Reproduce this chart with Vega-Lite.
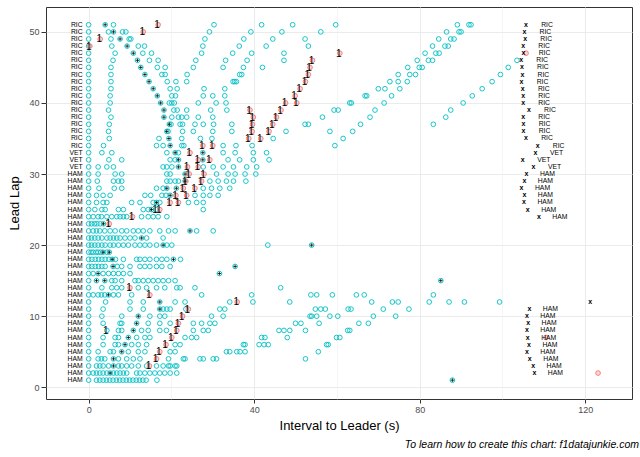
{
  "$schema": "https://vega.github.io/schema/vega-lite/v6.json",
  "width": 586,
  "height": 392,
  "autosize": "none",
  "padding": {"left": 46, "top": 7, "right": 8, "bottom": 58},
  "background": "white",
  "config": {
    "font": "Liberation Sans",
    "view": {"stroke": "#333333", "strokeWidth": 1},
    "axis": {
      "domain": false,
      "tickColor": "#333333",
      "tickSize": 4,
      "tickWidth": 1,
      "labelColor": "#4D4D4D",
      "labelFontSize": 9,
      "labelPadding": 2,
      "gridColor": "#EBEBEB",
      "titleFontSize": 13,
      "titleFontWeight": "normal",
      "titleColor": "black"
    }
  },
  "title": {
    "text": "To learn how to create this chart: f1datajunkie.com",
    "orient": "bottom",
    "anchor": "end",
    "fontStyle": "italic",
    "fontWeight": "normal",
    "fontSize": 10.5,
    "color": "black",
    "offset": 8,
    "dx": 7
  },
  "datasets": {
    "gaps": [
      {"lap":51,"gap":0},{"lap":51,"gap":4.0,"trk":1},{"lap":51,"gap":6.0},{"lap":51,"gap":16.8,"pit":1,"stop":1},{"lap":51,"gap":30.3},{"lap":51,"gap":41.8},{"lap":51,"gap":49.3},{"lap":51,"gap":59.7},{"lap":51,"gap":89.1},{"lap":51,"gap":91.9},{"lap":51,"gap":92.4},
      {"lap":50,"gap":0},{"lap":50,"gap":4.8},{"lap":50,"gap":6.0,"trk":1},{"lap":50,"gap":8.2},{"lap":50,"gap":9.0},{"lap":50,"gap":13.2,"pit":1,"stop":1},{"lap":50,"gap":29.2},{"lap":50,"gap":39.2},{"lap":50,"gap":46.7},{"lap":50,"gap":56.1},{"lap":50,"gap":86.5},{"lap":50,"gap":89.5},{"lap":50,"gap":90.0},
      {"lap":49,"gap":0},{"lap":49,"gap":2.8,"pit":1,"stop":1},{"lap":49,"gap":5.4},{"lap":49,"gap":7.6,"trk":1},{"lap":49,"gap":9.8},{"lap":49,"gap":10.2},{"lap":49,"gap":28.1},{"lap":49,"gap":37.5},{"lap":49,"gap":44.5},{"lap":49,"gap":52.3},{"lap":49,"gap":84.6},{"lap":49,"gap":87.5},{"lap":49,"gap":88.3},
      {"lap":48,"gap":0},{"lap":48,"gap":0.3,"pit":1,"stop":1},{"lap":48,"gap":5.6},{"lap":48,"gap":9.3,"trk":1},{"lap":48,"gap":12.0},{"lap":48,"gap":13.5},{"lap":48,"gap":27.6},{"lap":48,"gap":36.4},{"lap":48,"gap":42.9},{"lap":48,"gap":53.1},{"lap":48,"gap":83.1},{"lap":48,"gap":86.1},{"lap":48,"gap":86.9},
      {"lap":47,"gap":0},{"lap":47,"gap":6.4},{"lap":47,"gap":10.8,"trk":1},{"lap":47,"gap":13.1},{"lap":47,"gap":15.2},{"lap":47,"gap":27.3},{"lap":47,"gap":34.8},{"lap":47,"gap":39.4},{"lap":47,"gap":47.2},{"lap":47,"gap":60.7,"pit":1,"stop":1},{"lap":47,"gap":81.3},{"lap":47,"gap":83.9},{"lap":47,"gap":84.7},{"lap":47,"gap":105.7,"pit":1},
      {"lap":46,"gap":0},{"lap":46,"gap":5.9},{"lap":46,"gap":11.8,"trk":1},{"lap":46,"gap":14.7},{"lap":46,"gap":16.8},{"lap":46,"gap":25.9},{"lap":46,"gap":33.1},{"lap":46,"gap":38.3},{"lap":46,"gap":47.2},{"lap":46,"gap":54.1,"pit":1,"stop":1},{"lap":46,"gap":79.4},{"lap":46,"gap":82.1},{"lap":46,"gap":83.1},{"lap":46,"gap":103.5},
      {"lap":45,"gap":0},{"lap":45,"gap":5.4},{"lap":45,"gap":12.6,"trk":1},{"lap":45,"gap":16.6},{"lap":45,"gap":18.5},{"lap":45,"gap":25.3},{"lap":45,"gap":32.5},{"lap":45,"gap":37.4},{"lap":45,"gap":42.0},{"lap":45,"gap":53.5,"pit":1,"stop":1},{"lap":45,"gap":77.1},{"lap":45,"gap":79.9},{"lap":45,"gap":80.6},{"lap":45,"gap":101.4},
      {"lap":44,"gap":0},{"lap":44,"gap":5.4},{"lap":44,"gap":13.6,"trk":1},{"lap":44,"gap":17.7},{"lap":44,"gap":18.5},{"lap":44,"gap":23.8},{"lap":44,"gap":36.5},{"lap":44,"gap":37.0},{"lap":44,"gap":53.1,"pit":1,"stop":1},{"lap":44,"gap":74.8},{"lap":44,"gap":77.6},{"lap":44,"gap":79.0},{"lap":44,"gap":99.5},
      {"lap":43,"gap":0},{"lap":43,"gap":5.4},{"lap":43,"gap":14.6,"trk":1},{"lap":43,"gap":19.0},{"lap":43,"gap":21.1},{"lap":43,"gap":23.7},{"lap":43,"gap":34.9},{"lap":43,"gap":35.3},{"lap":43,"gap":35.7},{"lap":43,"gap":52.4,"pit":1,"stop":1},{"lap":43,"gap":72.8},{"lap":43,"gap":74.8},{"lap":43,"gap":77.0},{"lap":43,"gap":97.5},
      {"lap":42,"gap":0},{"lap":42,"gap":5.4},{"lap":42,"gap":15.6,"trk":1},{"lap":42,"gap":19.7},{"lap":42,"gap":21.4},{"lap":42,"gap":27.9},{"lap":42,"gap":32.9},{"lap":42,"gap":51.1,"pit":1,"stop":1},{"lap":42,"gap":70.0},{"lap":42,"gap":71.6},{"lap":42,"gap":75.2},{"lap":42,"gap":95.1},
      {"lap":41,"gap":0},{"lap":41,"gap":5.2},{"lap":41,"gap":16.6,"trk":1},{"lap":41,"gap":20.1},{"lap":41,"gap":21.0},{"lap":41,"gap":27.7},{"lap":41,"gap":30.0},{"lap":41,"gap":32.9},{"lap":41,"gap":49.9,"pit":1,"stop":1},{"lap":41,"gap":66.8},{"lap":41,"gap":67.2},{"lap":41,"gap":73.2},{"lap":41,"gap":92.7},
      {"lap":40,"gap":0},{"lap":40,"gap":5.2},{"lap":40,"gap":17.4,"trk":1},{"lap":40,"gap":19.5},{"lap":40,"gap":20.1},{"lap":40,"gap":20.7},{"lap":40,"gap":26.5},{"lap":40,"gap":30.8},{"lap":40,"gap":33.2},{"lap":40,"gap":47.6,"pit":1,"stop":1},{"lap":40,"gap":50.3,"pit":1,"stop":1},{"lap":40,"gap":63.1},{"lap":40,"gap":63.5},{"lap":40,"gap":71.4},{"lap":40,"gap":90.5},
      {"lap":39,"gap":0},{"lap":39,"gap":4.8},{"lap":39,"gap":18.2,"trk":1},{"lap":39,"gap":20.6},{"lap":39,"gap":21.4},{"lap":39,"gap":23.7},{"lap":39,"gap":29.5},{"lap":39,"gap":33.4},{"lap":39,"gap":39.0,"pit":1,"stop":1},{"lap":39,"gap":46.5,"pit":1,"stop":1},{"lap":39,"gap":59.3},{"lap":39,"gap":60.3},{"lap":39,"gap":69.2},{"lap":39,"gap":87.5},
      {"lap":38,"gap":0},{"lap":38,"gap":5.4},{"lap":38,"gap":18.2,"trk":1},{"lap":38,"gap":20.1},{"lap":38,"gap":21.7},{"lap":38,"gap":22.5},{"lap":38,"gap":23.7},{"lap":38,"gap":26.5},{"lap":38,"gap":30.0},{"lap":38,"gap":39.8,"pit":1,"stop":1},{"lap":38,"gap":45.4,"pit":1,"stop":1},{"lap":38,"gap":56.5},{"lap":38,"gap":68.0},{"lap":38,"gap":86.3},
      {"lap":37,"gap":0},{"lap":37,"gap":5.0},{"lap":37,"gap":19.5,"trk":1},{"lap":37,"gap":19.9},{"lap":37,"gap":22.1},{"lap":37,"gap":22.7},{"lap":37,"gap":25.7},{"lap":37,"gap":27.7},{"lap":37,"gap":30.2},{"lap":37,"gap":34.6},{"lap":37,"gap":39.6,"pit":1,"stop":1},{"lap":37,"gap":44.5,"pit":1,"stop":1},{"lap":37,"gap":52.3},{"lap":37,"gap":53.1},{"lap":37,"gap":65.7},{"lap":37,"gap":83.3},
      {"lap":36,"gap":0},{"lap":36,"gap":4.8},{"lap":36,"gap":18.9,"trk":1},{"lap":36,"gap":19.2},{"lap":36,"gap":22.7},{"lap":36,"gap":25.3},{"lap":36,"gap":30.0},{"lap":36,"gap":34.6},{"lap":36,"gap":39.5,"pit":1,"stop":1},{"lap":36,"gap":43.6,"pit":1,"stop":1},{"lap":36,"gap":47.7},{"lap":36,"gap":58.3},{"lap":36,"gap":63.8},
      {"lap":35,"gap":0},{"lap":35,"gap":5.0},{"lap":35,"gap":17.0},{"lap":35,"gap":19.4,"trk":1},{"lap":35,"gap":22.5},{"lap":35,"gap":27.0},{"lap":35,"gap":29.8},{"lap":35,"gap":38.7,"pit":1,"stop":1},{"lap":35,"gap":41.6,"pit":1,"stop":1},{"lap":35,"gap":44.6},{"lap":35,"gap":61.5},
      {"lap":34,"gap":0},{"lap":34,"gap":3.6},{"lap":34,"gap":16.4},{"lap":34,"gap":18.0},{"lap":34,"gap":19.7,"trk":1},{"lap":34,"gap":22.5},{"lap":34,"gap":23.0},{"lap":34,"gap":27.6,"pit":1,"stop":1},{"lap":34,"gap":30.0,"pit":1,"stop":1},{"lap":34,"gap":32.5},{"lap":34,"gap":35.6},{"lap":34,"gap":39.5},{"lap":34,"gap":59.5},
      {"lap":33,"gap":0},{"lap":33,"gap":3.2},{"lap":33,"gap":5.6},{"lap":33,"gap":18.9},{"lap":33,"gap":20.9,"trk":1},{"lap":33,"gap":21.7},{"lap":33,"gap":24.5,"pit":1,"stop":1},{"lap":33,"gap":27.6,"trk":1},{"lap":33,"gap":32.5},{"lap":33,"gap":35.4},{"lap":33,"gap":39.8},{"lap":33,"gap":43.0},
      {"lap":32,"gap":0},{"lap":32,"gap":4.9},{"lap":32,"gap":8.0},{"lap":32,"gap":19.7},{"lap":32,"gap":20.9},{"lap":32,"gap":21.7,"trk":1},{"lap":32,"gap":26.5,"pit":1,"stop":1},{"lap":32,"gap":27.6,"trk":1},{"lap":32,"gap":29.3,"pit":1,"stop":1},{"lap":32,"gap":33.7},{"lap":32,"gap":36.5},{"lap":32,"gap":39.8},{"lap":32,"gap":43.6},
      {"lap":31,"gap":0},{"lap":31,"gap":2.3},{"lap":31,"gap":4.4},{"lap":31,"gap":6.0},{"lap":31,"gap":18.0},{"lap":31,"gap":18.9},{"lap":31,"gap":20.1},{"lap":31,"gap":21.7,"trk":1},{"lap":31,"gap":23.9,"pit":1,"stop":1},{"lap":31,"gap":26.5,"pit":1,"stop":1},{"lap":31,"gap":27.7},{"lap":31,"gap":30.1},{"lap":31,"gap":32.5},{"lap":31,"gap":35.0},{"lap":31,"gap":38.2},{"lap":31,"gap":40.6},
      {"lap":30,"gap":0},{"lap":30,"gap":2.3},{"lap":30,"gap":6.4},{"lap":30,"gap":8.0},{"lap":30,"gap":18.9},{"lap":30,"gap":19.7},{"lap":30,"gap":23.3,"trk":1},{"lap":30,"gap":24.3,"pit":1,"stop":1},{"lap":30,"gap":27.9,"pit":1,"stop":1},{"lap":30,"gap":30.9},{"lap":30,"gap":33.7},{"lap":30,"gap":35.4},{"lap":30,"gap":37.8},{"lap":30,"gap":40.4},
      {"lap":29,"gap":0},{"lap":29,"gap":2.1},{"lap":29,"gap":6.0},{"lap":29,"gap":7.2},{"lap":29,"gap":8.0},{"lap":29,"gap":18.9},{"lap":29,"gap":19.7},{"lap":29,"gap":20.9},{"lap":29,"gap":21.7},{"lap":29,"gap":23.3,"trk":1},{"lap":29,"gap":23.5,"pit":1,"stop":1},{"lap":29,"gap":27.3,"pit":1,"stop":1},{"lap":29,"gap":29.3},{"lap":29,"gap":31.3},{"lap":29,"gap":33.3},{"lap":29,"gap":35.0},{"lap":29,"gap":38.0},
      {"lap":28,"gap":0},{"lap":28,"gap":2.5},{"lap":28,"gap":6.2},{"lap":28,"gap":8.0},{"lap":28,"gap":16.4},{"lap":28,"gap":18.0},{"lap":28,"gap":18.9,"trk":1},{"lap":28,"gap":21.2,"trk":1},{"lap":28,"gap":22.9,"pit":1,"stop":1},{"lap":28,"gap":25.7,"pit":1,"stop":1},{"lap":28,"gap":27.7},{"lap":28,"gap":29.7},{"lap":28,"gap":31.7},{"lap":28,"gap":34.1},
      {"lap":27,"gap":0},{"lap":27,"gap":1.9},{"lap":27,"gap":3.5},{"lap":27,"gap":5.2},{"lap":27,"gap":13.6},{"lap":27,"gap":15.0},{"lap":27,"gap":17.7},{"lap":27,"gap":18.7},{"lap":27,"gap":19.7,"trk":1},{"lap":27,"gap":21.1,"pit":1,"stop":1},{"lap":27,"gap":23.7,"pit":1,"stop":1},{"lap":27,"gap":25.7},{"lap":27,"gap":27.7},{"lap":27,"gap":29.3},{"lap":27,"gap":31.3},
      {"lap":26,"gap":0},{"lap":26,"gap":1.9},{"lap":26,"gap":3.5},{"lap":26,"gap":4.4},{"lap":26,"gap":10.4},{"lap":26,"gap":12.4},{"lap":26,"gap":15.6},{"lap":26,"gap":16.4,"trk":1},{"lap":26,"gap":17.2},{"lap":26,"gap":19.7,"pit":1,"stop":1},{"lap":26,"gap":21.7,"pit":1,"stop":1},{"lap":26,"gap":24.1},{"lap":26,"gap":26.1},{"lap":26,"gap":27.7},
      {"lap":25,"gap":0},{"lap":25,"gap":1.5},{"lap":25,"gap":3.2},{"lap":25,"gap":4.0},{"lap":25,"gap":7.2},{"lap":25,"gap":8.4},{"lap":25,"gap":13.2},{"lap":25,"gap":14.4},{"lap":25,"gap":15.2,"trk":1},{"lap":25,"gap":16.3,"stop":1},{"lap":25,"gap":17.2,"pit":1,"stop":1},{"lap":25,"gap":27.7},
      {"lap":24,"gap":0},{"lap":24,"gap":1.1},{"lap":24,"gap":2.3},{"lap":24,"gap":3.1},{"lap":24,"gap":4.4},{"lap":24,"gap":5.6},{"lap":24,"gap":6.8},{"lap":24,"gap":7.6},{"lap":24,"gap":8.4},{"lap":24,"gap":9.2},{"lap":24,"gap":10.6,"pit":1,"stop":1},{"lap":24,"gap":12.8},{"lap":24,"gap":14.4},{"lap":24,"gap":15.6},{"lap":24,"gap":16.8},{"lap":24,"gap":18.9},
      {"lap":23,"gap":0},{"lap":23,"gap":0.7},{"lap":23,"gap":1.4},{"lap":23,"gap":2.0},{"lap":23,"gap":2.8},{"lap":23,"gap":3.6,"trk":1},{"lap":23,"gap":5.0,"pit":1,"stop":1},
      {"lap":22,"gap":0},{"lap":22,"gap":1.1},{"lap":22,"gap":1.9},{"lap":22,"gap":2.7},{"lap":22,"gap":3.9},{"lap":22,"gap":5.2},{"lap":22,"gap":6.4},{"lap":22,"gap":8.0},{"lap":22,"gap":9.2},{"lap":22,"gap":10.8},{"lap":22,"gap":12.0},{"lap":22,"gap":13.2},{"lap":22,"gap":14.8},{"lap":22,"gap":17.2},{"lap":22,"gap":19.3},{"lap":22,"gap":20.9},{"lap":22,"gap":24.5,"trk":1},{"lap":22,"gap":26.1},{"lap":22,"gap":30.1},
      {"lap":21,"gap":0},{"lap":21,"gap":0.7},{"lap":21,"gap":1.5},{"lap":21,"gap":2.3},{"lap":21,"gap":3.2},{"lap":21,"gap":4.4},{"lap":21,"gap":5.2},{"lap":21,"gap":6.0},{"lap":21,"gap":6.8},{"lap":21,"gap":7.6},{"lap":21,"gap":8.8},{"lap":21,"gap":10.0},{"lap":21,"gap":11.2},{"lap":21,"gap":12.8,"trk":1},{"lap":21,"gap":14.0},{"lap":21,"gap":18.0},
      {"lap":20,"gap":0},{"lap":20,"gap":0.7},{"lap":20,"gap":1.5},{"lap":20,"gap":2.3},{"lap":20,"gap":3.2},{"lap":20,"gap":4.0},{"lap":20,"gap":5.2},{"lap":20,"gap":6.0},{"lap":20,"gap":7.2},{"lap":20,"gap":8.4},{"lap":20,"gap":9.6},{"lap":20,"gap":11.2},{"lap":20,"gap":12.4},{"lap":20,"gap":13.6},{"lap":20,"gap":14.8},{"lap":20,"gap":16.4},{"lap":20,"gap":18.0,"trk":1},{"lap":20,"gap":18.9},{"lap":20,"gap":20.1},{"lap":20,"gap":43.3},{"lap":20,"gap":53.9,"trk":1},
      {"lap":19,"gap":0},{"lap":19,"gap":0.6},{"lap":19,"gap":1.1},{"lap":19,"gap":1.8},{"lap":19,"gap":2.3},{"lap":19,"gap":2.9},{"lap":19,"gap":3.5,"trk":1},{"lap":19,"gap":4.4},{"lap":19,"gap":5.0,"trk":1},
      {"lap":18,"gap":0},{"lap":18,"gap":0.8},{"lap":18,"gap":1.6},{"lap":18,"gap":2.4},{"lap":18,"gap":3.2},{"lap":18,"gap":4.0},{"lap":18,"gap":4.9},{"lap":18,"gap":5.7,"trk":1},{"lap":18,"gap":6.5},{"lap":18,"gap":8.4},{"lap":18,"gap":11.6},{"lap":18,"gap":12.4},{"lap":18,"gap":13.6},{"lap":18,"gap":14.8},{"lap":18,"gap":16.4},{"lap":18,"gap":17.7},{"lap":18,"gap":18.9},{"lap":18,"gap":20.5,"trk":1},{"lap":18,"gap":22.2},
      {"lap":17,"gap":0},{"lap":17,"gap":0.8},{"lap":17,"gap":1.6},{"lap":17,"gap":2.4},{"lap":17,"gap":3.2},{"lap":17,"gap":4.0},{"lap":17,"gap":5.9,"trk":1},{"lap":17,"gap":6.9},{"lap":17,"gap":8.0},{"lap":17,"gap":10.0},{"lap":17,"gap":12.4},{"lap":17,"gap":13.6},{"lap":17,"gap":14.8},{"lap":17,"gap":16.4},{"lap":17,"gap":17.7},{"lap":17,"gap":19.7},{"lap":17,"gap":35.4,"trk":1},
      {"lap":16,"gap":0},{"lap":16,"gap":1.1},{"lap":16,"gap":2.3,"trk":1},{"lap":16,"gap":3.5},{"lap":16,"gap":4.8},{"lap":16,"gap":6.0},{"lap":16,"gap":7.2},{"lap":16,"gap":8.4},{"lap":16,"gap":10.0},{"lap":16,"gap":31.6,"trk":1},
      {"lap":15,"gap":0},{"lap":15,"gap":1.9,"trk":1},{"lap":15,"gap":3.9,"trk":1},{"lap":15,"gap":5.6},{"lap":15,"gap":6.4},{"lap":15,"gap":8.0},{"lap":15,"gap":11.2},{"lap":15,"gap":12.0},{"lap":15,"gap":13.2},{"lap":15,"gap":14.4},{"lap":15,"gap":15.6},{"lap":15,"gap":16.8},{"lap":15,"gap":18.0},{"lap":15,"gap":19.3},{"lap":15,"gap":20.9},{"lap":15,"gap":85.1,"trk":1},
      {"lap":14,"gap":0},{"lap":14,"gap":3.2},{"lap":14,"gap":5.6},{"lap":14,"gap":6.8},{"lap":14,"gap":8.0},{"lap":14,"gap":10.0,"pit":1,"stop":1},{"lap":14,"gap":12.0},{"lap":14,"gap":14.0},{"lap":14,"gap":16.4},{"lap":14,"gap":18.4},{"lap":14,"gap":21.3},{"lap":14,"gap":22.1},{"lap":14,"gap":25.7},{"lap":14,"gap":46.4},
      {"lap":13,"gap":0},{"lap":13,"gap":1.1},{"lap":13,"gap":2.3},{"lap":13,"gap":3.1},{"lap":13,"gap":3.9},{"lap":13,"gap":4.8,"trk":1},{"lap":13,"gap":6.0},{"lap":13,"gap":7.2},{"lap":13,"gap":10.4},{"lap":13,"gap":14.8,"pit":1,"stop":1},{"lap":13,"gap":27.3},{"lap":13,"gap":39.4},{"lap":13,"gap":53.7},{"lap":13,"gap":55.1},{"lap":13,"gap":58.9},{"lap":13,"gap":64.7},{"lap":13,"gap":66.6},{"lap":13,"gap":83.3},
      {"lap":12,"gap":0},{"lap":12,"gap":4.1},{"lap":12,"gap":10.0},{"lap":12,"gap":13.2},{"lap":12,"gap":17.2,"trk":1},{"lap":12,"gap":20.9},{"lap":12,"gap":23.3},{"lap":12,"gap":34.1},{"lap":12,"gap":35.9,"pit":1,"stop":1},{"lap":12,"gap":39.7},{"lap":12,"gap":48.6},{"lap":12,"gap":68.4},{"lap":12,"gap":73.4},{"lap":12,"gap":74.8},{"lap":12,"gap":82.3},{"lap":12,"gap":87.1},{"lap":12,"gap":90.8},{"lap":12,"gap":99.3},
      {"lap":11,"gap":0},{"lap":11,"gap":3.5},{"lap":11,"gap":10.0},{"lap":11,"gap":13.2},{"lap":11,"gap":17.2,"trk":1},{"lap":11,"gap":18.0},{"lap":11,"gap":18.9},{"lap":11,"gap":19.7},{"lap":11,"gap":23.5},{"lap":11,"gap":24.1,"pit":1,"stop":1},{"lap":11,"gap":31.7},{"lap":11,"gap":32.9},{"lap":11,"gap":54.8},{"lap":11,"gap":56.1},{"lap":11,"gap":57.2},{"lap":11,"gap":62.7},{"lap":11,"gap":63.4},{"lap":11,"gap":71.2},{"lap":11,"gap":77.4},
      {"lap":10,"gap":0},{"lap":10,"gap":3.2},{"lap":10,"gap":8.0},{"lap":10,"gap":12.0,"trk":1},{"lap":10,"gap":14.8},{"lap":10,"gap":17.2},{"lap":10,"gap":18.4},{"lap":10,"gap":22.7,"pit":1,"stop":1},{"lap":10,"gap":29.7},{"lap":10,"gap":32.5},{"lap":10,"gap":53.5},{"lap":10,"gap":53.9},{"lap":10,"gap":55.1},{"lap":10,"gap":58.3},{"lap":10,"gap":60.2},{"lap":10,"gap":68.8},{"lap":10,"gap":74.2},
      {"lap":9,"gap":0},{"lap":9,"gap":3.5},{"lap":9,"gap":7.6},{"lap":9,"gap":8.0},{"lap":9,"gap":11.6,"trk":1},{"lap":9,"gap":14.4},{"lap":9,"gap":17.2},{"lap":9,"gap":19.7},{"lap":9,"gap":21.7,"pit":1,"stop":1},{"lap":9,"gap":25.3},{"lap":9,"gap":27.3},{"lap":9,"gap":29.3},{"lap":9,"gap":30.5},{"lap":9,"gap":50.0},{"lap":9,"gap":51.3},{"lap":9,"gap":55.7},{"lap":9,"gap":65.3},{"lap":9,"gap":67.6},
      {"lap":8,"gap":0},{"lap":8,"gap":4.4,"stop":1},{"lap":8,"gap":7.2},{"lap":8,"gap":8.0},{"lap":8,"gap":10.8,"trk":1},{"lap":8,"gap":12.8},{"lap":8,"gap":14.4},{"lap":8,"gap":17.2},{"lap":8,"gap":18.8},{"lap":8,"gap":21.3,"pit":1,"stop":1},{"lap":8,"gap":25.3},{"lap":8,"gap":27.7},{"lap":8,"gap":28.9},{"lap":8,"gap":46.0},{"lap":8,"gap":47.2},{"lap":8,"gap":48.6},{"lap":8,"gap":52.4},{"lap":8,"gap":62.6},{"lap":8,"gap":63.1},
      {"lap":7,"gap":0},{"lap":7,"gap":3.5},{"lap":7,"gap":6.4},{"lap":7,"gap":7.2},{"lap":7,"gap":9.6,"trk":1},{"lap":7,"gap":11.6},{"lap":7,"gap":13.6},{"lap":7,"gap":14.8},{"lap":7,"gap":20.1,"pit":1,"stop":1},{"lap":7,"gap":23.3},{"lap":7,"gap":24.9},{"lap":7,"gap":26.1},{"lap":7,"gap":41.8},{"lap":7,"gap":42.6},{"lap":7,"gap":48.0},{"lap":7,"gap":59.9},{"lap":7,"gap":60.7},{"lap":7,"gap":110.5,"pit":1},
      {"lap":6,"gap":0},{"lap":6,"gap":3.5},{"lap":6,"gap":6.4},{"lap":6,"gap":7.2},{"lap":6,"gap":8.8,"trk":1},{"lap":6,"gap":10.4},{"lap":6,"gap":12.0},{"lap":6,"gap":14.0},{"lap":6,"gap":18.7,"pit":1,"stop":1},{"lap":6,"gap":20.9},{"lap":6,"gap":22.1},{"lap":6,"gap":37.4},{"lap":6,"gap":37.8},{"lap":6,"gap":41.2},{"lap":6,"gap":42.4},{"lap":6,"gap":43.4},{"lap":6,"gap":57.5},{"lap":6,"gap":57.9},
      {"lap":5,"gap":0},{"lap":5,"gap":2.3},{"lap":5,"gap":5.2},{"lap":5,"gap":6.0},{"lap":5,"gap":8.0,"trk":1},{"lap":5,"gap":9.6},{"lap":5,"gap":12.0},{"lap":5,"gap":13.6},{"lap":5,"gap":17.2,"pit":1,"stop":1},{"lap":5,"gap":19.7},{"lap":5,"gap":20.9},{"lap":5,"gap":33.3},{"lap":5,"gap":34.1},{"lap":5,"gap":35.8},{"lap":5,"gap":36.6},{"lap":5,"gap":37.8},{"lap":5,"gap":55.5},
      {"lap":4,"gap":0},{"lap":4,"gap":2.3},{"lap":4,"gap":3.1},{"lap":4,"gap":3.9},{"lap":4,"gap":6.0,"trk":1},{"lap":4,"gap":7.2},{"lap":4,"gap":9.2},{"lap":4,"gap":10.8},{"lap":4,"gap":12.4},{"lap":4,"gap":16.4,"pit":1,"stop":1},{"lap":4,"gap":19.3},{"lap":4,"gap":22.9},{"lap":4,"gap":23.3},{"lap":4,"gap":26.9},{"lap":4,"gap":27.7},{"lap":4,"gap":30.1},{"lap":4,"gap":30.9},{"lap":4,"gap":52.4},
      {"lap":3,"gap":0},{"lap":3,"gap":1.9},{"lap":3,"gap":2.7},{"lap":3,"gap":3.5},{"lap":3,"gap":4.8},{"lap":3,"gap":6.0,"trk":1},{"lap":3,"gap":7.2},{"lap":3,"gap":8.0},{"lap":3,"gap":9.2},{"lap":3,"gap":10.4},{"lap":3,"gap":12.0},{"lap":3,"gap":14.0},{"lap":3,"gap":14.7,"pit":1,"stop":1},{"lap":3,"gap":16.4},{"lap":3,"gap":18.0},{"lap":3,"gap":19.3},{"lap":3,"gap":19.7},{"lap":3,"gap":20.9},{"lap":3,"gap":21.3},
      {"lap":2,"gap":0},{"lap":2,"gap":1.1},{"lap":2,"gap":1.9},{"lap":2,"gap":2.7},{"lap":2,"gap":3.5},{"lap":2,"gap":4.4},{"lap":2,"gap":5.2,"trk":1},{"lap":2,"gap":6.0},{"lap":2,"gap":6.8},{"lap":2,"gap":7.6},{"lap":2,"gap":8.4},{"lap":2,"gap":9.2},{"lap":2,"gap":11.6},{"lap":2,"gap":12.4},{"lap":2,"gap":13.6},{"lap":2,"gap":14.8},{"lap":2,"gap":16.0},{"lap":2,"gap":17.2},{"lap":2,"gap":18.4},{"lap":2,"gap":19.7},{"lap":2,"gap":21.3},{"lap":2,"gap":123.1,"pit":1},
      {"lap":1,"gap":0},{"lap":1,"gap":1.9},{"lap":1,"gap":2.7},{"lap":1,"gap":3.5},{"lap":1,"gap":4.3},{"lap":1,"gap":5.1},{"lap":1,"gap":5.9},{"lap":1,"gap":6.7},{"lap":1,"gap":7.5},{"lap":1,"gap":8.3},{"lap":1,"gap":9.1},{"lap":1,"gap":9.9},{"lap":1,"gap":10.7},{"lap":1,"gap":11.5},{"lap":1,"gap":12.3},{"lap":1,"gap":13.1},{"lap":1,"gap":13.9},{"lap":1,"gap":16.5},{"lap":1,"gap":87.9,"trk":1}
    ],
    "leaders": [
      {"lap":51,"leader":"RIC"},{"lap":50,"leader":"RIC"},{"lap":49,"leader":"RIC"},{"lap":48,"leader":"RIC"},{"lap":47,"leader":"RIC"},{"lap":46,"leader":"RIC"},{"lap":45,"leader":"RIC"},{"lap":44,"leader":"RIC"},{"lap":43,"leader":"RIC"},{"lap":42,"leader":"RIC"},{"lap":41,"leader":"RIC"},{"lap":40,"leader":"RIC"},{"lap":39,"leader":"RIC"},{"lap":38,"leader":"RIC"},{"lap":37,"leader":"RIC"},{"lap":36,"leader":"RIC"},{"lap":35,"leader":"RIC"},{"lap":34,"leader":"RIC"},
      {"lap":33,"leader":"VET"},{"lap":32,"leader":"VET"},{"lap":31,"leader":"VET"},
      {"lap":30,"leader":"HAM"},{"lap":29,"leader":"HAM"},{"lap":28,"leader":"HAM"},{"lap":27,"leader":"HAM"},{"lap":26,"leader":"HAM"},{"lap":25,"leader":"HAM"},{"lap":24,"leader":"HAM"},{"lap":23,"leader":"HAM"},{"lap":22,"leader":"HAM"},{"lap":21,"leader":"HAM"},{"lap":20,"leader":"HAM"},{"lap":19,"leader":"HAM"},{"lap":18,"leader":"HAM"},{"lap":17,"leader":"HAM"},{"lap":16,"leader":"HAM"},{"lap":15,"leader":"HAM"},{"lap":14,"leader":"HAM"},{"lap":13,"leader":"HAM"},{"lap":12,"leader":"HAM"},{"lap":11,"leader":"HAM"},{"lap":10,"leader":"HAM"},{"lap":9,"leader":"HAM"},{"lap":8,"leader":"HAM"},{"lap":7,"leader":"HAM"},{"lap":6,"leader":"HAM"},{"lap":5,"leader":"HAM"},{"lap":4,"leader":"HAM"},{"lap":3,"leader":"HAM"},{"lap":2,"leader":"HAM"},{"lap":1,"leader":"HAM"}
    ],
    "laptimes": [
      {"lap":51,"t":105.7,"leader":"RIC"},{"lap":50,"t":105.3,"leader":"RIC"},{"lap":49,"t":105.5,"leader":"RIC"},{"lap":48,"t":105.0,"leader":"RIC"},{"lap":47,"t":105.1,"leader":"RIC"},{"lap":46,"t":104.5,"leader":"RIC"},{"lap":45,"t":104.7,"leader":"RIC"},{"lap":44,"t":104.8,"leader":"RIC"},{"lap":43,"t":104.6,"leader":"RIC"},{"lap":42,"t":104.9,"leader":"RIC"},{"lap":41,"t":105.0,"leader":"RIC"},{"lap":40,"t":105.0,"leader":"RIC"},{"lap":39,"t":106.4,"leader":"RIC"},{"lap":38,"t":105.0,"leader":"RIC"},{"lap":37,"t":105.1,"leader":"RIC"},{"lap":36,"t":105.1,"leader":"RIC"},{"lap":35,"t":105.7,"leader":"RIC"},{"lap":34,"t":108.5,"leader":"RIC"},
      {"lap":33,"t":108.0,"leader":"VET"},{"lap":32,"t":104.9,"leader":"VET"},{"lap":31,"t":107.5,"leader":"VET"},
      {"lap":30,"t":105.8,"leader":"HAM"},{"lap":29,"t":105.3,"leader":"HAM"},{"lap":28,"t":104.6,"leader":"HAM"},{"lap":27,"t":105.3,"leader":"HAM"},{"lap":26,"t":105.2,"leader":"HAM"},{"lap":25,"t":106.1,"leader":"HAM"},{"lap":24,"t":108.8,"leader":"HAM"},
      {"lap":12,"t":121.2,"leader":null},
      {"lap":11,"t":106.5,"leader":"HAM"},{"lap":10,"t":105.9,"leader":"HAM"},{"lap":9,"t":106.2,"leader":"HAM"},{"lap":8,"t":105.9,"leader":"HAM"},{"lap":7,"t":106.1,"leader":"HAM"},{"lap":6,"t":106.4,"leader":"HAM"},{"lap":5,"t":105.9,"leader":"HAM"},{"lap":4,"t":106.6,"leader":"HAM"},{"lap":3,"t":107.4,"leader":"HAM"},{"lap":2,"t":107.7,"leader":"HAM"}
    ]
  },
  "layer": [
    {
      "data": {"name": "gaps"},
      "transform": [{"filter": "!datum.pit"}],
      "mark": {"type": "point", "filled": false, "color": "#00BFC4", "size": 22, "strokeWidth": 0.9, "opacity": 1},
      "encoding": {
        "x": {
          "field": "gap", "type": "quantitative", "title": "Interval to Leader (s)",
          "scale": {"domain": [-10.3, 131.3], "nice": false, "zero": false},
          "axis": {
            "values": [0, 20, 40, 60, 80, 100, 120],
            "labelExpr": "datum.value % 40 === 0 ? datum.label : ''",
            "tickOpacity": {"condition": {"test": "datum.value % 40 === 0", "value": 1}, "value": 0},
            "gridWidth": {"condition": {"test": "datum.value % 40 === 0", "value": 1}, "value": 0.5},
            "titlePadding": 5
          }
        },
        "y": {
          "field": "lap", "type": "quantitative", "title": "Lead Lap",
          "scale": {"domain": [-1.65, 53.5], "nice": false, "zero": false},
          "axis": {
            "values": [0, 5, 10, 15, 20, 25, 30, 35, 40, 45, 50],
            "labelExpr": "datum.value % 10 === 0 ? datum.label : ''",
            "tickOpacity": {"condition": {"test": "datum.value % 10 === 0", "value": 1}, "value": 0},
            "gridWidth": {"condition": {"test": "datum.value % 10 === 0", "value": 1}, "value": 0.5},
            "tickSize": 5,
            "titlePadding": 7
          }
        }
      }
    },
    {
      "data": {"name": "gaps"},
      "transform": [{"filter": "datum.pit"}],
      "mark": {"type": "point", "filled": false, "stroke": "#F8766D", "fill": "#F8766D", "fillOpacity": 0.3, "size": 22, "strokeWidth": 0.9, "opacity": 1},
      "encoding": {
        "x": {"field": "gap", "type": "quantitative", "title": "Interval to Leader (s)"},
        "y": {"field": "lap", "type": "quantitative", "title": "Lead Lap"}
      }
    },
    {
      "data": {"name": "gaps"},
      "transform": [{"filter": "datum.trk"}],
      "mark": {"type": "point", "shape": "M-1,0L1,0M0,-1L0,1", "filled": false, "color": "black", "size": 12, "strokeWidth": 0.8, "opacity": 1},
      "encoding": {
        "x": {"field": "gap", "type": "quantitative", "title": "Interval to Leader (s)"},
        "y": {"field": "lap", "type": "quantitative", "title": "Lead Lap"}
      }
    },
    {
      "data": {"name": "gaps"},
      "transform": [{"filter": "datum.stop"}],
      "mark": {"type": "text", "text": "1", "fontSize": 10, "color": "black", "align": "center", "baseline": "middle", "dx": -1, "dy": 0.5},
      "encoding": {
        "x": {"field": "gap", "type": "quantitative", "title": "Interval to Leader (s)"},
        "y": {"field": "lap", "type": "quantitative", "title": "Lead Lap"}
      }
    },
    {
      "data": {"name": "leaders"},
      "mark": {"type": "text", "fontSize": 6.8, "color": "black", "align": "right", "baseline": "middle", "dx": -6},
      "encoding": {
        "x": {"datum": 0, "type": "quantitative"},
        "y": {"field": "lap", "type": "quantitative", "title": "Lead Lap"},
        "text": {"field": "leader"}
      }
    },
    {
      "data": {"name": "laptimes"},
      "mark": {"type": "text", "text": "x", "fontSize": 7, "fontWeight": "bold", "color": "black", "align": "center", "baseline": "middle"},
      "encoding": {
        "x": {"field": "t", "type": "quantitative", "title": "Interval to Leader (s)"},
        "y": {"field": "lap", "type": "quantitative", "title": "Lead Lap"}
      }
    },
    {
      "data": {"name": "laptimes"},
      "transform": [{"filter": "datum.leader != null"}],
      "mark": {"type": "text", "fontSize": 6.8, "color": "black", "align": "center", "baseline": "middle", "dx": 21},
      "encoding": {
        "x": {"field": "t", "type": "quantitative", "title": "Interval to Leader (s)"},
        "y": {"field": "lap", "type": "quantitative", "title": "Lead Lap"},
        "text": {"field": "leader"}
      }
    }
  ]
}
